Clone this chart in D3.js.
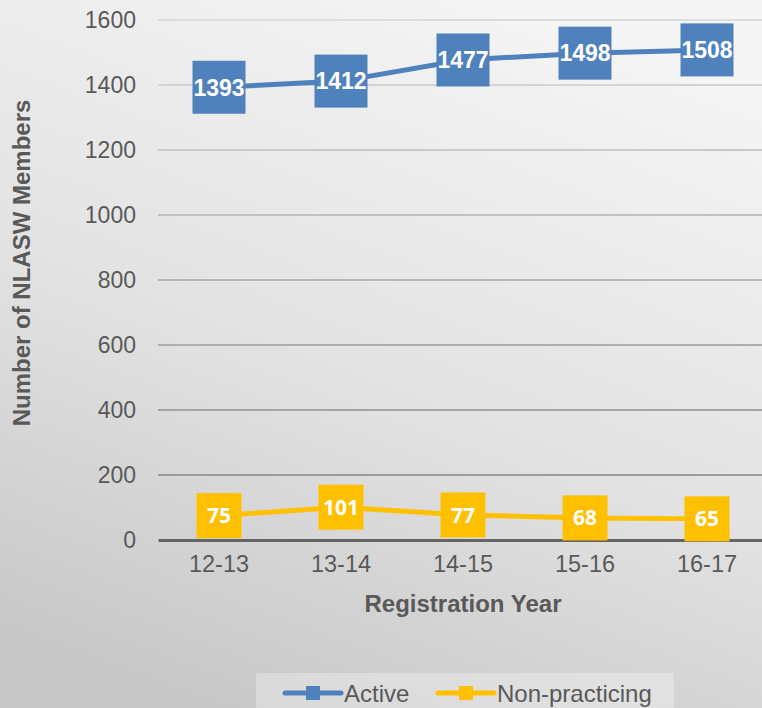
<!DOCTYPE html>
<html>
<head>
<meta charset="utf-8">
<script src="https://cdn.jsdelivr.net/npm/d3@7"></script>
<style>
  body { margin: 0; overflow: hidden; }
  text { font-family: "Liberation Sans", Arial, sans-serif; }
</style>
</head>
<body>
<div id="chart"></div>
<script>
// data
var years = ["12-13", "13-14", "14-15", "15-16", "16-17"];
var active = [1393, 1412, 1477, 1498, 1508];
var nonPracticing = [75, 101, 77, 68, 65];
var yTicks = [0, 200, 400, 600, 800, 1000, 1200, 1400, 1600];
var seriesNames = ["Active", "Non-practicing"];

var W = 762, H = 708;
var margin = {top: 20, right: -6, bottom: 168, left: 158},
    width = W - margin.left - margin.right,
    height = H - margin.top - margin.bottom;

var svg = d3.select("#chart")
  .append("svg")
    .attr("width", W)
    .attr("height", H);

// background gradient
var defs = svg.append("defs");
var bg = defs.append("linearGradient")
  .attr("id", "bg")
  .attr("x1", "0.7").attr("y1", "0")
  .attr("x2", "0.3").attr("y2", "1");
bg.append("stop").attr("offset", "0%").attr("stop-color", "#f5f5f5");
bg.append("stop").attr("offset", "55%").attr("stop-color", "#e2e2e2");
bg.append("stop").attr("offset", "100%").attr("stop-color", "#c8c8c8");

svg.append("rect")
  .attr("width", W).attr("height", H)
  .attr("fill", "url(#bg)");

var g = svg.append("g")
  .attr("transform", "translate(" + margin.left + "," + margin.top + ")");

var x = d3.scaleBand()
  .domain(years)
  .range([0, width]);

var y = d3.scaleLinear()
  .domain([0, 1600])
  .range([height, 0]);

// gridlines, darker toward the bottom
var gridColor = d3.scaleLinear()
  .domain([1600, 200])
  .range(["#dcdcdc", "#9c9c9c"]);

g.selectAll(".grid")
  .data(yTicks.filter(function(d) { return d > 0; }))
  .enter()
  .append("line")
    .attr("class", "grid")
    .attr("x1", 0)
    .attr("x2", width)
    .attr("y1", function(d) { return y(d); })
    .attr("y2", function(d) { return y(d); })
    .attr("stroke", function(d) { return gridColor(d); })
    .attr("stroke-width", 2);

// y axis labels
var yAxis = g.append("g")
  .call(d3.axisLeft(y).tickValues(yTicks).tickFormat(d3.format("d")).tickSize(0).tickPadding(22));
yAxis.select(".domain").remove();
yAxis.selectAll("text")
  .attr("fill", "#595959")
  .style("font-size", "23px")
  .style("font-family", "Liberation Sans, Arial, sans-serif");

// x axis
var xAxis = g.append("g")
  .attr("transform", "translate(0," + height + ")")
  .call(d3.axisBottom(x).tickSize(0).tickPadding(15));
xAxis.select(".domain")
  .attr("stroke", "#646464")
  .attr("stroke-width", 3);
xAxis.selectAll("text")
  .attr("fill", "#595959")
  .style("font-size", "23.5px")
  .style("font-family", "Liberation Sans, Arial, sans-serif");

// axis titles
svg.append("text")
  .attr("x", 463)
  .attr("y", 612)
  .attr("text-anchor", "middle")
  .attr("fill", "#595959")
  .style("font-size", "24px")
  .style("font-weight", "bold")
  .text("Registration Year");

svg.append("text")
  .attr("transform", "translate(30,263)rotate(-90)")
  .attr("text-anchor", "middle")
  .attr("fill", "#595959")
  .style("font-size", "24px")
  .style("font-weight", "bold")
  .text("Number of NLASW Members");

var cx = function(d, i) { return x(years[i]) + x.bandwidth() / 2; };

function drawSeries(values, color, size, lineW, font, fontSize) {
  g.append("path")
    .datum(values)
    .attr("fill", "none")
    .attr("stroke", color)
    .attr("stroke-width", lineW)
    .attr("d", d3.line()
      .x(cx)
      .y(function(d) { return y(d); }));

  g.selectAll(null)
    .data(values)
    .enter()
    .append("rect")
      .attr("x", function(d, i) { return cx(d, i) - size / 2; })
      .attr("y", function(d) { return y(d) - size / 2; })
      .attr("width", size)
      .attr("height", size)
      .attr("fill", color);

  g.selectAll(null)
    .data(values)
    .enter()
    .append("text")
      .attr("x", cx)
      .attr("y", function(d) { return y(d); })
      .attr("dy", "0.36em")
      .attr("text-anchor", "middle")
      .attr("fill", "#ffffff")
      .style("font-family", font)
      .style("font-size", fontSize)
      .style("font-weight", "bold")
      .text(function(d) { return d; });
}

drawSeries(active, "#4f81bd", 53, 5, "Liberation Sans, Arial, sans-serif", "23px");
drawSeries(nonPracticing, "#ffc000", 45, 5, "Open Sans, sans-serif", "21px");

// legend
svg.append("rect")
  .attr("x", 256).attr("y", 673)
  .attr("width", 418).attr("height", 40)
  .attr("fill", "#ffffff")
  .attr("fill-opacity", 0.3);

var legendColors = ["#4f81bd", "#ffc000"];
var legendX = [285, 438];
var leg = svg.selectAll(".leg")
  .data(seriesNames)
  .enter()
  .append("g")
    .attr("class", "leg")
    .attr("transform", function(d, i) { return "translate(" + legendX[i] + ",693)"; });

leg.append("line")
  .attr("x1", 0).attr("x2", 56)
  .attr("stroke", function(d, i) { return legendColors[i]; })
  .attr("stroke-width", 5)
  .attr("stroke-linecap", "round");
leg.append("rect")
  .attr("x", 21).attr("y", -7)
  .attr("width", 14).attr("height", 14)
  .attr("fill", function(d, i) { return legendColors[i]; });
leg.append("text")
  .attr("x", 59)
  .attr("y", 8.5)
  .attr("fill", "#595959")
  .style("font-size", "24px")
  .text(function(d) { return d; });
</script>
</body>
</html>
